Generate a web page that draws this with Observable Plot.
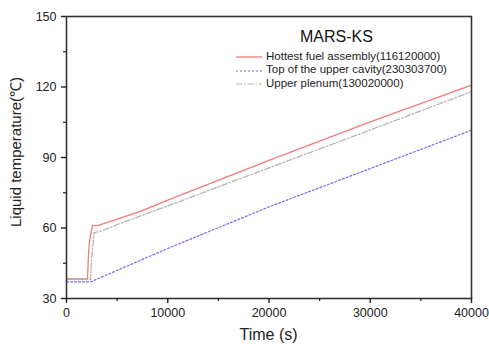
<!DOCTYPE html>
<html>
<head>
<meta charset="utf-8">
<script src="https://cdn.jsdelivr.net/npm/d3@7"></script>
<script src="https://cdn.jsdelivr.net/npm/@observablehq/plot@0.6"></script>
<style>
  html, body { margin: 0; padding: 0; background: #fff; }
  #wrap { position: relative; width: 489px; height: 344px; font-family: "Liberation Sans", Arial, sans-serif; }
  #legend { position: absolute; left: 0; top: 0; width: 489px; height: 344px; pointer-events: none; }
  .lt { position: absolute; font-size: 11.5px; color: #222; white-space: nowrap; line-height: 1; }
  .title { position: absolute; font-size: 16px; color: #111; white-space: nowrap; line-height: 1; }
</style>
</head>
<body>
<div id="wrap"><div id="chart"></div><div id="legend"></div></div>
<script>
// Series data (time in s, liquid temperature in °C)
const hottestTime = [0, 2080, 2150, 2250, 2400, 2570, 3070, 5000, 7230, 10000, 20000, 30000, 40000];
const hottestTemp = [38.3, 38.3, 47, 53.5, 57.5, 61, 61, 63.8, 67, 71.9, 88.8, 105.2, 120.8];
const cavityTime = [0, 2400, 10000, 20000, 30000, 40000];
const cavityTemp = [37.1, 37.1, 51.3, 69, 85.3, 101.6];
const plenumTime = [0, 2380, 2450, 2730, 3500, 5000, 10000, 20000, 30000, 40000];
const plenumTemp = [38.1, 38.1, 46, 58, 58.8, 61.4, 69.4, 85.6, 101.7, 118];

const seriesNames = ["Hottest fuel assembly(116120000)", "Top of the upper cavity(230303700)", "Upper plenum(130020000)"];
const legendTitle = "MARS-KS";
const xMajor = [0, 10000, 20000, 30000, 40000];
const xMinor = [5000, 15000, 25000, 35000];
const yMajor = [30, 60, 90, 120, 150];
const yMinor = [45, 75, 105, 135];
const xLabel = "Time (s)";
const yLabel = "Liquid temperature(\u2103)";

const styles = [
  {stroke: "#f27b7b", dash: null, width: 1.3},
  {stroke: "#6f6ff0", dash: "2,2", width: 1.2},
  {stroke: "#b0b0b0", dash: "6,2,1.5,2", width: 1.2}
];

const toRows = (t, v) => t.map((d, i) => ({x: d, y: v[i]}));
const series = [toRows(hottestTime, hottestTemp), toRows(cavityTime, cavityTemp), toRows(plenumTime, plenumTemp)];

const chart = Plot.plot({
  width: 489,
  height: 344,
  marginLeft: 66,
  marginRight: 18,
  marginTop: 16,
  marginBottom: 46,
  style: {fontFamily: "Liberation Sans, Arial, sans-serif", fontSize: "12.5px", color: "#222", background: "#fff"},
  x: {domain: [0, 40000]},
  y: {domain: [30, 150]},
  marks: [
    ...series.map((s, i) => Plot.line(s, {x: "x", y: "y", stroke: styles[i].stroke, strokeWidth: styles[i].width, strokeDasharray: styles[i].dash})),
    Plot.frame({stroke: "#333", strokeWidth: 1.6}),
    Plot.axisX({ticks: xMajor, tickSize: 5, tickPadding: 5, tickFormat: d => String(d), strokeWidth: 1.4, label: null}),
    Plot.axisX({ticks: xMinor, tickSize: 3, tickFormat: null, text: null, strokeWidth: 1.2, label: null}),
    Plot.axisY({ticks: yMajor, tickSize: 5, tickPadding: 5, tickFormat: d => String(d), strokeWidth: 1.4, label: null}),
    Plot.axisY({ticks: yMinor, tickSize: 3, tickFormat: null, text: null, strokeWidth: 1.2, label: null})
  ]
});
document.getElementById("chart").appendChild(chart);

// Axis titles as SVG text
const svg = d3.select(chart);
svg.append("text").attr("x", 268.5).attr("y", 340).attr("text-anchor", "middle")
  .attr("font-size", "16px").attr("fill", "#222").text(xLabel);
svg.append("text").attr("transform", "translate(21,152) rotate(-90)").attr("text-anchor", "middle")
  .attr("font-size", "15px").attr("fill", "#222").text(yLabel);

// Legend overlay
const lg = document.getElementById("legend");
const t = document.createElement("div");
t.className = "title"; t.textContent = legendTitle;
t.style.left = "300px"; t.style.top = "29px";
lg.appendChild(t);
const rowsY = [57.3, 70.7, 84];
seriesNames.forEach((name, i) => {
  const s = document.createElementNS("http://www.w3.org/2000/svg", "svg");
  s.setAttribute("width", "27"); s.setAttribute("height", "4");
  s.style.position = "absolute"; s.style.left = "236px"; s.style.top = (rowsY[i] - 2) + "px";
  const l = document.createElementNS("http://www.w3.org/2000/svg", "line");
  l.setAttribute("x1", 0); l.setAttribute("x2", 26); l.setAttribute("y1", 2); l.setAttribute("y2", 2);
  l.setAttribute("stroke", styles[i].stroke); l.setAttribute("stroke-width", styles[i].width);
  if (styles[i].dash) l.setAttribute("stroke-dasharray", styles[i].dash);
  s.appendChild(l); lg.appendChild(s);
  const d = document.createElement("div");
  d.className = "lt"; d.textContent = name;
  d.style.left = "266px"; d.style.top = (rowsY[i] - 6.5) + "px";
  lg.appendChild(d);
});
</script>
</body>
</html>
